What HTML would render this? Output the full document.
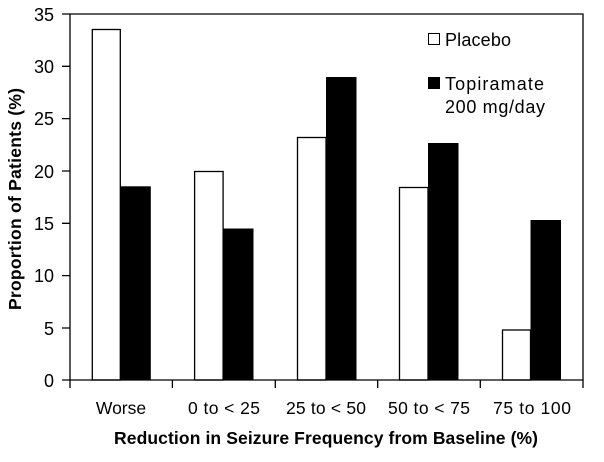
<!DOCTYPE html>
<html><head><style>body{margin:0;background:#fff}svg{display:block}</style></head><body>
<svg width="604" height="462" xmlns="http://www.w3.org/2000/svg" font-family="Liberation Sans, sans-serif">
<rect width="604" height="462" fill="#fff"/>
<g fill="#fff" stroke="#000" stroke-width="1.3">
<rect x="92.3" y="29.5" width="28" height="350.5"/>
<rect x="194.6" y="171.5" width="28.5" height="208.5"/>
<rect x="297.5" y="137.5" width="28.5" height="242.5"/>
<rect x="399.5" y="187.5" width="28.5" height="192.5"/>
<rect x="502.5" y="330" width="28" height="50"/>
</g>
<g fill="#000">
<rect x="120.3" y="186.3" width="30.5" height="193.7"/>
<rect x="223" y="228.5" width="30.5" height="151.5"/>
<rect x="326" y="77" width="30.5" height="303"/>
<rect x="428" y="143" width="30.5" height="237"/>
<rect x="530.5" y="220" width="30.5" height="160"/>
</g>
<g stroke="#000" stroke-width="1.3" fill="none">
<path d="M70 14H583V380H70Z"/>
<path d="M62 14H70M62 66.3H70M62 118.6H70M62 171H70M62 223.3H70M62 275.6H70M62 328H70M62 380H70"/>
<path d="M70 380V388M172.4 380V388M275.3 380V388M377.7 380V388M480.3 380V388M583 380V388"/>
</g>
<g font-size="18" text-anchor="end" fill="#000">
<text x="54" y="21">35</text><text x="54" y="73">30</text><text x="54" y="125">25</text>
<text x="54" y="178">20</text><text x="54" y="230">15</text><text x="54" y="282">10</text>
<text x="54" y="335">5</text><text x="54" y="387">0</text>
</g>
<g font-size="17.5" text-anchor="middle" fill="#000">
<text x="121" y="414">Worse</text><text x="224" y="414" textLength="72">0 to &lt; 25</text>
<text x="326" y="414" textLength="80">25 to &lt; 50</text><text x="429" y="414" textLength="82">50 to &lt; 75</text>
<text x="532" y="414" textLength="78">75 to 100</text>
</g>
<text x="326" y="444" font-size="17.5" font-weight="bold" text-anchor="middle" textLength="424">Reduction in Seizure Frequency from Baseline (%)</text>
<text transform="translate(21,199) rotate(-90)" font-size="17.5" font-weight="bold" text-anchor="middle" textLength="222">Proportion of Patients (%)</text>
<rect x="428.5" y="33.5" width="11" height="11" fill="#fff" stroke="#000"/>
<text x="445" y="46" font-size="18" textLength="66">Placebo</text>
<rect x="428" y="77" width="12" height="12" fill="#000"/>
<text x="445" y="90" font-size="18" textLength="99">Topiramate</text>
<text x="445" y="113" font-size="18" textLength="100">200 mg/day</text>
</svg>
</body></html>
